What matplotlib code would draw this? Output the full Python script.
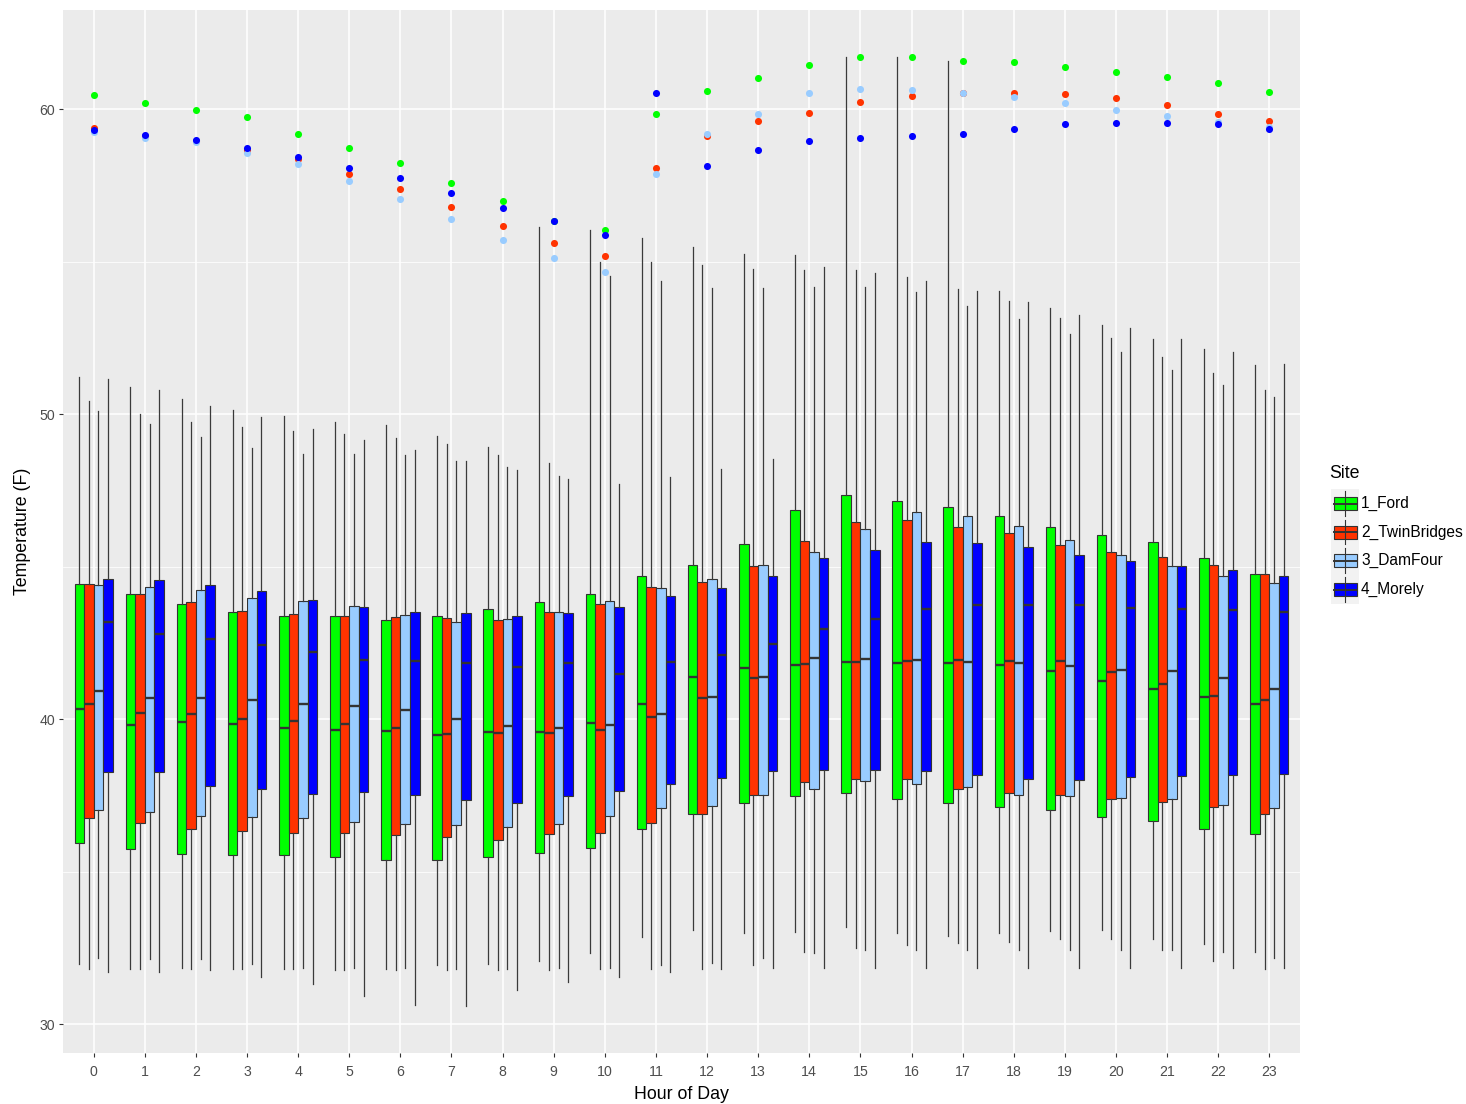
import matplotlib
matplotlib.use("Agg")
import matplotlib.pyplot as plt
from matplotlib.patches import Rectangle

plt.rcParams["font.family"] = ["Liberation Sans", "DejaVu Sans"]

# ── Data ──────────────────────────────────────────────────────────────────────
HOURS = list(range(24))
SITES = ["1_Ford", "2_TwinBridges", "3_DamFour", "4_Morely"]
SITE_COLORS = ["#00FF00", "#FF3300", "#99CCFF", "#0000FF"]

FORD_LO  = [31.97, 31.81, 31.85, 31.81, 31.81, 31.77, 31.81, 31.93, 31.97, 32.09, 32.33, 32.86,
            33.10, 32.98, 33.02, 33.18, 32.98, 32.90, 32.98, 33.07, 33.10, 32.81, 32.62, 32.38]
FORD_Q1  = [35.95, 35.74, 35.59, 35.54, 35.54, 35.47, 35.38, 35.38, 35.48, 35.60, 35.79, 36.41,
            36.89, 37.26, 37.50, 37.57, 37.37, 37.26, 37.13, 37.01, 36.80, 36.65, 36.39, 36.23]
FORD_MED = [40.34, 39.80, 39.90, 39.85, 39.73, 39.65, 39.60, 39.49, 39.57, 39.57, 39.89, 40.50,
            41.39, 41.67, 41.77, 41.88, 41.84, 41.84, 41.79, 41.59, 41.26, 40.98, 40.74, 40.49]
FORD_Q3  = [44.43, 44.10, 43.78, 43.50, 43.38, 43.38, 43.26, 43.38, 43.62, 43.83, 44.11, 44.68,
            45.07, 45.76, 46.86, 47.35, 47.14, 46.97, 46.66, 46.29, 46.05, 45.81, 45.28, 44.75]
FORD_HI  = [51.21, 50.88, 50.51, 50.15, 49.95, 49.75, 49.63, 49.27, 48.93, 56.13, 56.05, 55.77,
            55.49, 55.24, 55.21, 61.71, 61.71, 61.58, 54.03, 53.47, 52.93, 52.46, 52.13, 51.60]
FORD_DOT = [60.45, 60.21, 59.97, 59.73, 59.20, 58.71, 58.23, 57.59, 56.98, 56.33, 56.05, 59.85,
            60.61, 61.02, 61.46, 61.70, 61.70, 61.58, 61.54, 61.38, 61.21, 61.05, 60.85, 60.57]

TWIN_LO  = [31.81, 31.81, 31.81, 31.81, 31.81, 31.77, 31.77, 31.77, 31.77, 31.77, 31.81, 31.81,
            31.81, 31.93, 32.38, 32.50, 32.61, 32.66, 32.71, 32.81, 32.81, 32.45, 32.09, 31.81]
TWIN_Q1  = [36.75, 36.59, 36.39, 36.35, 36.28, 36.28, 36.20, 36.15, 36.03, 36.23, 36.28, 36.60,
            36.89, 37.53, 37.93, 38.05, 38.05, 37.73, 37.57, 37.53, 37.37, 37.29, 37.13, 36.89]
TWIN_MED = [40.50, 40.22, 40.17, 40.01, 39.93, 39.85, 39.72, 39.53, 39.54, 39.54, 39.66, 40.06,
            40.70, 41.34, 41.81, 41.88, 41.92, 41.95, 41.90, 41.90, 41.56, 41.14, 40.77, 40.62]
TWIN_Q3  = [44.43, 44.10, 43.86, 43.55, 43.46, 43.38, 43.34, 43.31, 43.26, 43.51, 43.79, 44.35,
            44.51, 45.04, 45.85, 46.46, 46.54, 46.30, 46.10, 45.72, 45.49, 45.33, 45.07, 44.75]
TWIN_HI  = [50.44, 50.00, 49.75, 49.58, 49.46, 49.35, 49.21, 49.02, 48.67, 48.40, 55.00, 55.00,
            54.88, 54.76, 54.73, 54.73, 54.51, 54.11, 53.71, 53.14, 52.49, 51.89, 51.36, 50.80]
TWIN_DOT = [59.39, 59.12, 58.95, 58.67, 58.36, 57.87, 57.38, 56.78, 56.17, 55.60, 55.20, 58.07,
            59.12, 59.61, 59.88, 60.25, 60.44, 60.52, 60.53, 60.49, 60.37, 60.12, 59.85, 59.61]

DAM_LO  = [32.17, 32.14, 32.14, 31.97, 31.85, 31.85, 31.85, 31.81, 31.81, 31.85, 31.85, 31.93,
           32.00, 32.17, 32.33, 32.42, 32.45, 32.45, 32.45, 32.45, 32.42, 32.45, 32.38, 32.17]
DAM_Q1  = [37.04, 36.95, 36.84, 36.80, 36.75, 36.64, 36.56, 36.52, 36.48, 36.56, 36.84, 37.09,
           37.17, 37.53, 37.73, 37.97, 37.89, 37.78, 37.53, 37.50, 37.41, 37.37, 37.20, 37.08]
DAM_MED = [40.94, 40.70, 40.70, 40.62, 40.51, 40.42, 40.29, 40.01, 39.78, 39.73, 39.82, 40.17,
           40.74, 41.39, 42.00, 41.99, 41.95, 41.88, 41.83, 41.76, 41.62, 41.59, 41.34, 40.98]
DAM_Q3  = [44.39, 44.34, 44.24, 43.98, 43.87, 43.70, 43.43, 43.19, 43.30, 43.53, 43.89, 44.31,
           44.60, 45.07, 45.49, 46.25, 46.78, 46.66, 46.33, 45.88, 45.39, 45.03, 44.71, 44.47]
DAM_HI  = [50.12, 49.67, 49.26, 48.90, 48.69, 48.69, 48.66, 48.45, 48.27, 47.98, 54.53, 54.37,
           54.13, 54.13, 54.16, 54.16, 54.00, 53.55, 53.11, 52.63, 52.05, 51.44, 50.96, 50.56]
DAM_DOT = [59.24, 59.04, 58.91, 58.55, 58.19, 57.65, 57.05, 56.41, 55.72, 55.12, 54.67, 57.86,
           59.20, 59.85, 60.53, 60.65, 60.62, 60.53, 60.39, 60.21, 59.97, 59.77, 59.57, 59.41]

MORE_LO  = [31.72, 31.72, 31.77, 31.56, 31.33, 30.92, 30.64, 30.60, 31.12, 31.40, 31.56, 31.72,
            31.81, 31.85, 31.85, 31.85, 31.85, 31.85, 31.85, 31.85, 31.85, 31.85, 31.85, 31.85]
MORE_Q1  = [38.28, 38.28, 37.80, 37.73, 37.56, 37.60, 37.52, 37.36, 37.25, 37.49, 37.65, 37.89,
            38.09, 38.29, 38.33, 38.33, 38.29, 38.18, 38.05, 38.01, 38.10, 38.13, 38.18, 38.22]
MORE_MED = [43.20, 42.79, 42.64, 42.44, 42.19, 41.95, 41.91, 41.83, 41.71, 41.83, 41.50, 41.88,
            42.12, 42.48, 42.96, 43.29, 43.61, 43.73, 43.76, 43.73, 43.66, 43.61, 43.57, 43.52]
MORE_Q3  = [44.60, 44.55, 44.39, 44.20, 43.92, 43.67, 43.50, 43.47, 43.38, 43.47, 43.67, 44.03,
            44.31, 44.71, 45.28, 45.56, 45.81, 45.77, 45.65, 45.40, 45.20, 45.04, 44.88, 44.71]
MORE_HI  = [51.16, 50.80, 50.27, 49.90, 49.50, 49.14, 48.82, 48.45, 48.18, 47.88, 47.72, 47.95,
            48.22, 48.54, 54.83, 54.64, 54.36, 54.03, 53.67, 53.26, 52.82, 52.46, 52.05, 51.65]
MORE_DOT = [59.32, 59.16, 59.00, 58.71, 58.44, 58.07, 57.74, 57.26, 56.77, 56.33, 55.87, 60.53,
            58.14, 58.67, 58.95, 59.04, 59.12, 59.19, 59.35, 59.52, 59.56, 59.56, 59.52, 59.35]

SITE_STATS = [
    (FORD_LO, FORD_Q1, FORD_MED, FORD_Q3, FORD_HI, FORD_DOT),
    (TWIN_LO, TWIN_Q1, TWIN_MED, TWIN_Q3, TWIN_HI, TWIN_DOT),
    (DAM_LO, DAM_Q1, DAM_MED, DAM_Q3, DAM_HI, DAM_DOT),
    (MORE_LO, MORE_Q1, MORE_MED, MORE_Q3, MORE_HI, MORE_DOT),
]

# ── Figure / panel ────────────────────────────────────────────────────────────
W, H = 1466, 1104
fig = plt.figure(figsize=(W / 100, H / 100), dpi=100)
ax = fig.add_axes([63 / W, 1 - 1053 / H, (1300 - 63) / W, (1053 - 10) / H])
ax.set_facecolor("#EBEBEB")
for s in ax.spines.values():
    s.set_visible(False)

ax.set_xlim(-0.6, 23.6)
ax.set_ylim(29.06, 63.25)
ax.set_yticks([30, 40, 50, 60])
ax.set_yticks([35, 45, 55], minor=True)
ax.set_xticks(HOURS)
ax.set_xticklabels([str(h) for h in HOURS])
ax.grid(True, which="major", color="white", linewidth=1.1)
ax.grid(True, which="minor", axis="y", color="white", linewidth=0.55)
ax.set_axisbelow(True)
ax.tick_params(which="major", length=3, width=0.8, color="#333333",
               labelsize=10.2, labelcolor="#4D4D4D", pad=2.5)
ax.tick_params(axis="x", pad=5.5)
ax.tick_params(which="minor", length=0)

# ── Boxplots, dodged by site ──────────────────────────────────────────────────
BOX_W = 0.1875
for i, (color, (lo, q1, med, q3, hi, dot)) in enumerate(zip(SITE_COLORS, SITE_STATS)):
    stats = [dict(whislo=lo[h], q1=q1[h], med=med[h], q3=q3[h], whishi=hi[h]) for h in HOURS]
    pos = [h + (i - 1.5) * BOX_W for h in HOURS]
    ax.bxp(stats, positions=pos, widths=BOX_W, patch_artist=True,
           showfliers=False, showcaps=False, manage_ticks=False,
           boxprops=dict(facecolor=color, edgecolor="#333333", linewidth=0.8),
           whiskerprops=dict(color="#3a3a3a", linewidth=0.9),
           medianprops=dict(color="#333333", linewidth=1.7))

for color, (lo, q1, med, q3, hi, dot) in zip(SITE_COLORS, SITE_STATS):
    ax.scatter(HOURS, dot, s=26, color=color, linewidths=0, zorder=5)

ax.set_xlabel("Hour of Day", fontsize=12.8, color="black", labelpad=5)
ax.set_ylabel("Temperature (F)", fontsize=12.8, color="black", labelpad=6)

# ── Legend (ggplot-style keys) ────────────────────────────────────────────────
lg = fig.add_axes([0, 0, 1, 1], facecolor="none")
lg.set_xlim(0, W)
lg.set_ylim(H, 0)
lg.axis("off")
lg.text(1329, 474, "Site", fontsize=12.8, va="center", ha="left")
for k, (site, color) in enumerate(zip(SITES, SITE_COLORS)):
    y0 = 489 + k * 28.7
    lg.add_patch(Rectangle((1331, y0), 28, 28.7, facecolor="#F2F2F2", edgecolor="none"))
    lg.plot([1345, 1345], [y0 + 2, y0 + 26.7], color="#333333", lw=0.8)
    lg.add_patch(Rectangle((1333.5, y0 + 8), 23, 13, facecolor=color,
                           edgecolor="#333333", linewidth=0.8))
    lg.plot([1333.5, 1356.5], [y0 + 14.5, y0 + 14.5], color="#333333", lw=1.4)
    lg.text(1361, y0 + 14.5, site, fontsize=11.2, va="center", ha="left", color="black")

fig.savefig("out.png", dpi=100)
